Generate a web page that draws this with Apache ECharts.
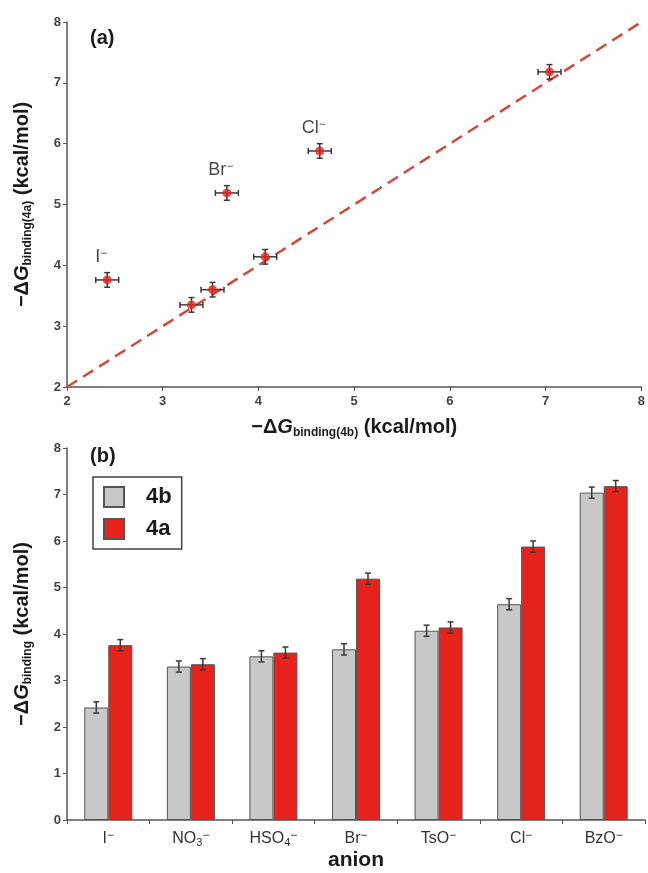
<!DOCTYPE html>
<html>
<head>
<meta charset="utf-8">
<script src="https://cdn.jsdelivr.net/npm/echarts@6/dist/echarts.min.js"></script>
<style>
html, body { margin: 0; padding: 0; background: #fff; }
#main { width: 648px; height: 873px; }
</style>
</head>
<body>
<div id="main"></div>
<script>
// anions, in the order of panel (b)
var anions = ['I', 'NO3', 'HSO4', 'Br', 'TsO', 'Cl', 'BzO'];
var tickLabels = ['{n|I}{p|−}', '{n|NO}{b|3}{p|−}', '{n|HSO}{b|4}{p|−}', '{n|Br}{p|−}',
    '{n|TsO}{p|−}', '{n|Cl}{p|−}', '{n|BzO}{p|−}'];
var pointLabels = ['{n|I}{p|−}', '', '', '{n|Br}{p|−}', '', '{n|Cl}{p|−}', ''];

// -dG binding, kcal/mol
var dG4b = [2.42, 3.30, 3.52, 3.67, 4.07, 4.64, 7.04];
var dG4a = [3.76, 3.35, 3.60, 5.19, 4.14, 5.88, 7.18];
var err4b = [0.12, 0.12, 0.12, 0.12, 0.12, 0.12, 0.12];
var err4a = [0.12, 0.12, 0.12, 0.12, 0.12, 0.12, 0.12];

var diagonal = [[2, 2], [8, 8]];

var FONT = 'Liberation Sans, Arial, sans-serif';
var BAR_W = 24;

var myChart = echarts.init(document.getElementById('main'));

var scatterData = dG4b.map(function (v, i) { return [v, dG4a[i], err4b[i], err4a[i]]; });

function seg(a, b) {
    return {
        type: 'line',
        shape: { x1: a[0], y1: a[1], x2: b[0], y2: b[1] },
        style: { stroke: '#3a3a3a', lineWidth: 1.5 }
    };
}

function crossErr(params, api) {
    var x = api.value(0), y = api.value(1), ex = api.value(2), ey = api.value(3);
    var l = api.coord([x - ex, y]), r = api.coord([x + ex, y]);
    var t = api.coord([x, y + ey]), b = api.coord([x, y - ey]);
    var c = 3;
    return {
        type: 'group',
        children: [
            seg(l, r), seg(t, b),
            seg([l[0], l[1] - c], [l[0], l[1] + c]),
            seg([r[0], r[1] - c], [r[0], r[1] + c]),
            seg([t[0] - c, t[1]], [t[0] + c, t[1]]),
            seg([b[0] - c, b[1]], [b[0] + c, b[1]])
        ]
    };
}

function barErr(shift) {
    return function (params, api) {
        var i = api.value(0), v = api.value(1), e = api.value(2);
        var t = api.coord([i, v + e]), b = api.coord([i, v - e]);
        var x = t[0] + shift, c = 3;
        return {
            type: 'group',
            children: [
                seg([x, t[1]], [x, b[1]]),
                seg([x - c, t[1]], [x + c, t[1]]),
                seg([x - c, b[1]], [x + c, b[1]])
            ]
        };
    };
}

var axisLine = { lineStyle: { color: '#555', width: 1.5 } };
var tickLabel = { color: '#444', fontFamily: FONT, fontWeight: 'bold', fontSize: 13 };
var nameRich = {
    m: { fontSize: 20, fontWeight: 'bold', fontFamily: FONT, color: '#1a1a1a', lineHeight: 24 },
    g: { fontSize: 20, fontWeight: 'bold', fontStyle: 'italic', fontFamily: FONT, color: '#1a1a1a', lineHeight: 24 },
    s: { fontSize: 12, fontWeight: 'bold', fontFamily: FONT, color: '#1a1a1a', lineHeight: 12, verticalAlign: 'bottom' }
};

var option = {
    backgroundColor: '#fff',
    animation: false,
    title: [
        { text: '(a)', left: 85, top: 23, textStyle: { fontFamily: FONT, fontWeight: 'bold', fontSize: 20, color: '#1a1a1a' } },
        { text: '(b)', left: 85, top: 441, textStyle: { fontFamily: FONT, fontWeight: 'bold', fontSize: 20, color: '#1a1a1a' } }
    ],
    legend: {
        data: ['4b', '4a'],
        orient: 'vertical',
        left: 93,
        top: 477,
        borderColor: '#444',
        borderWidth: 1.5,
        padding: [9, 10, 9, 10],
        itemWidth: 20,
        itemHeight: 20,
        itemGap: 10,
        icon: 'rect',
        textStyle: { fontFamily: FONT, fontWeight: 'bold', fontSize: 22, color: '#1a1a1a', padding: [0, 0, 0, 17] }
    },
    grid: [
        { left: 67, right: 3, top: 22, height: 365 },
        { left: 67, right: 3, top: 448, height: 372 }
    ],
    xAxis: [
        {
            gridIndex: 0, type: 'value', min: 2, max: 8, interval: 1,
            axisLine: axisLine,
            axisTick: { show: true, length: 4, lineStyle: { color: '#555' } },
            axisLabel: tickLabel,
            splitLine: { show: false },
            name: '{m|−Δ}{g|G}{s|binding(4b)}{m| (kcal/mol)}',
            nameLocation: 'middle',
            nameGap: 28,
            nameTextStyle: { rich: nameRich }
        },
        {
            gridIndex: 1, type: 'category', data: tickLabels,
            axisLine: axisLine,
            axisTick: { show: true, length: 4, lineStyle: { color: '#555' } },
            axisLabel: {
                interval: 0, margin: 10,
                rich: {
                    n: { fontFamily: FONT, fontSize: 16, color: '#333', lineHeight: 18 },
                    b: { fontFamily: FONT, fontSize: 11, color: '#333', lineHeight: 10, verticalAlign: 'bottom' },
                    p: { fontFamily: FONT, fontSize: 12, color: '#333', lineHeight: 11, verticalAlign: 'top' }
                }
            },
            name: 'anion',
            nameLocation: 'middle',
            nameGap: 30,
            nameTextStyle: { fontFamily: FONT, fontWeight: 'bold', fontSize: 21, color: '#1a1a1a' }
        }
    ],
    yAxis: [
        {
            gridIndex: 0, type: 'value', min: 2, max: 8, interval: 1,
            axisLine: { show: true, lineStyle: { color: '#555', width: 1.5 } },
            axisTick: { show: true, length: 4, lineStyle: { color: '#555' } },
            axisLabel: Object.assign({ margin: 6 }, tickLabel),
            splitLine: { show: false },
            name: '{m|−Δ}{g|G}{s|binding(4a)}{m| (kcal/mol)}',
            nameLocation: 'middle',
            nameRotate: 90,
            nameGap: 33,
            nameTextStyle: { rich: nameRich }
        },
        {
            gridIndex: 1, type: 'value', min: 0, max: 8, interval: 1,
            axisLine: { show: true, lineStyle: { color: '#555', width: 1.5 } },
            axisTick: { show: true, length: 4, lineStyle: { color: '#555' } },
            axisLabel: Object.assign({ margin: 6 }, tickLabel),
            splitLine: { show: false },
            name: '{m|−Δ}{g|G}{s|binding}{m| (kcal/mol)}',
            nameLocation: 'middle',
            nameRotate: 90,
            nameGap: 33,
            nameTextStyle: { rich: nameRich }
        }
    ],
    series: [
        {
            name: 'diagonal',
            type: 'line',
            xAxisIndex: 0, yAxisIndex: 0,
            data: diagonal,
            symbol: 'none',
            lineStyle: { color: '#d4493c', width: 2.5, type: [12, 7] },
            z: 1
        },
        {
            type: 'custom',
            xAxisIndex: 0, yAxisIndex: 0,
            data: scatterData,
            renderItem: crossErr,
            z: 2
        },
        {
            type: 'scatter',
            xAxisIndex: 0, yAxisIndex: 0,
            data: scatterData.map(function (d, i) {
                return { value: [d[0], d[1]], label: { formatter: pointLabels[i] } };
            }),
            symbolSize: 9,
            itemStyle: { color: '#e5221c' },
            label: {
                show: true,
                position: 'top',
                distance: 8,
                offset: [-6, 0],
                color: '#1a1a1a',
                rich: {
                    n: { fontFamily: FONT, fontSize: 18, color: '#1a1a1a', lineHeight: 20 },
                    p: { fontFamily: FONT, fontSize: 12, color: '#1a1a1a', lineHeight: 12, verticalAlign: 'top' }
                }
            },
            z: 3
        },
        {
            name: '4b',
            type: 'bar',
            xAxisIndex: 1, yAxisIndex: 1,
            data: dG4b,
            barWidth: BAR_W,
            barGap: '0%',
            itemStyle: { color: '#c8c8c8', borderColor: '#555', borderWidth: 1 }
        },
        {
            name: '4a',
            type: 'bar',
            xAxisIndex: 1, yAxisIndex: 1,
            data: dG4a,
            barWidth: BAR_W,
            barGap: '0%',
            itemStyle: { color: '#e5221c', borderColor: '#555', borderWidth: 1 }
        },
        {
            type: 'custom',
            xAxisIndex: 1, yAxisIndex: 1,
            data: dG4b.map(function (v, i) { return [i, v, err4b[i]]; }),
            renderItem: barErr(-BAR_W / 2),
            z: 5
        },
        {
            type: 'custom',
            xAxisIndex: 1, yAxisIndex: 1,
            data: dG4a.map(function (v, i) { return [i, v, err4a[i]]; }),
            renderItem: barErr(BAR_W / 2),
            z: 5
        }
    ]
};
myChart.setOption(option);
</script>
</body>
</html>
